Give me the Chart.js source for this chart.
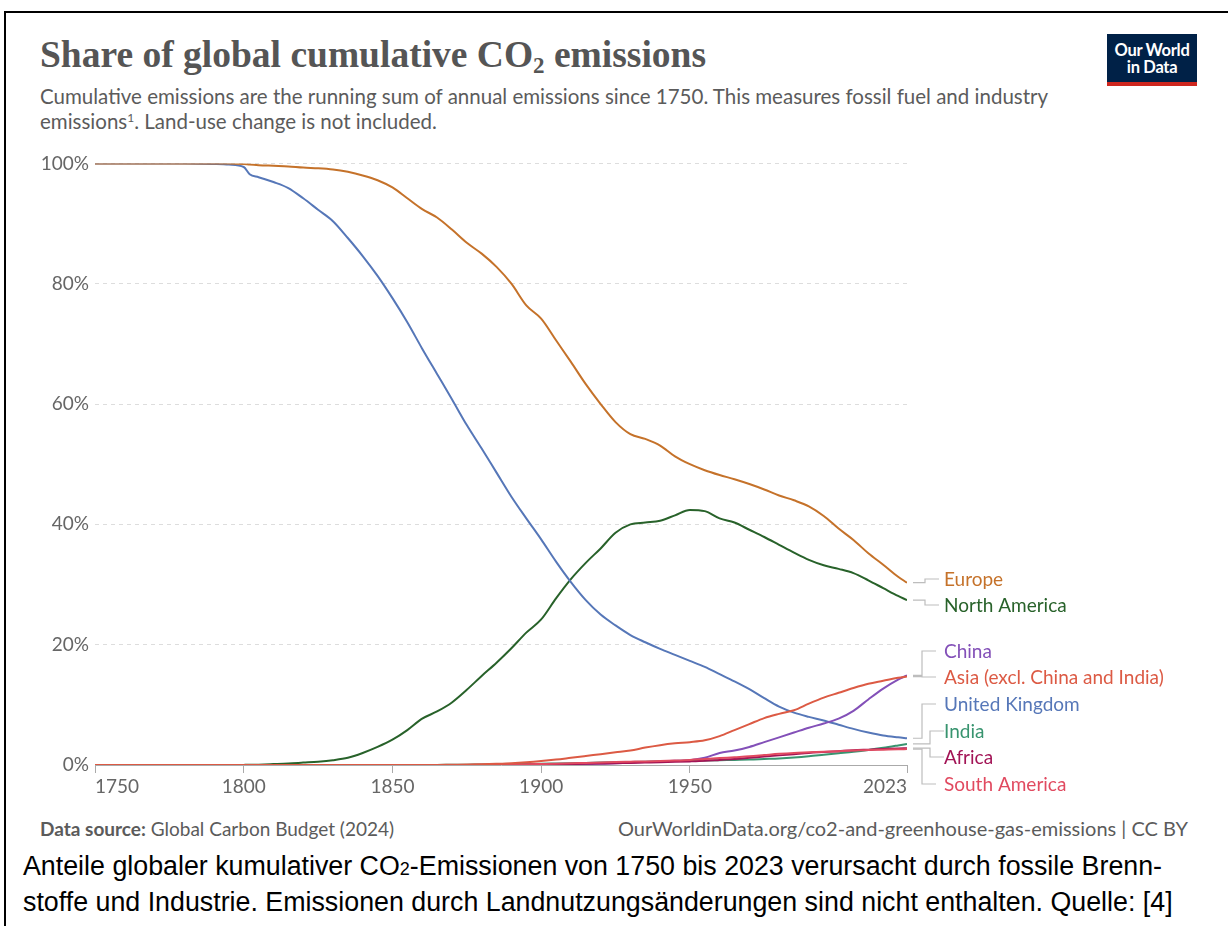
<!DOCTYPE html>
<html>
<head>
<meta charset="utf-8">
<script src="https://cdn.jsdelivr.net/npm/chart.js@4.4.1/dist/chart.umd.min.js"></script>
<style>
  html, body { margin: 0; padding: 0; background: #fff; width: 1228px; height: 926px; overflow: hidden; }
  #frame { position: absolute; left: 4px; top: 11px; width: 1300px; height: 1000px; border: 2px solid #000; box-sizing: border-box; }
  #title { position: absolute; left: 40px; top: 33px; font-family: "Liberation Serif", serif; font-weight: bold; font-size: 37.5px; line-height: 44px; color: #555; white-space: nowrap; }
  #title .sub { font-size: 23px; position: relative; top: 6px; }
  #subtitle { position: absolute; left: 40px; top: 84px; font-family: Lato, sans-serif; font-size: 20.5px; line-height: 25px; color: #5b5b5b; white-space: nowrap; }
  #subtitle sup { font-size: 12px; line-height: 0; vertical-align: 7px; }
  #logo { position: absolute; left: 1107px; top: 34px; width: 90px; height: 40px; background: #002147; border-bottom: 4px solid #ce261e; color: #fff; font-family: Lato, sans-serif; font-weight: bold; font-size: 16.5px; line-height: 17px; text-align: center; padding-top: 8px; letter-spacing: -0.3px; }
  #wrap { position: absolute; left: 0; top: 146px; width: 1180px; height: 654px; }
  #footL { position: absolute; left: 40px; top: 817px; font-family: Lato, sans-serif; font-size: 19px; color: #5b5b5b; }
  #footR { position: absolute; right: 40px; top: 816px; font-family: Lato, sans-serif; font-size: 20px; color: #5b5b5b; }
  #caption { position: absolute; left: 23px; top: 850px; font-family: "Liberation Sans", Arial, sans-serif; font-size: 26.8px; line-height: 33px; color: #000; white-space: nowrap; }
  #caption .sub { font-size: 18px; }
</style>
</head>
<body>
<div id="frame"></div>
<div id="title">Share of global cumulative CO<span class="sub">2</span> emissions</div>
<div id="subtitle">Cumulative emissions are the running sum of annual emissions since 1750. This measures fossil fuel and industry<br>emissions<sup>1</sup>. Land-use change is not included.</div>
<div id="logo">Our World<br>in Data</div>
<div id="wrap"><canvas id="c"></canvas></div>
<div id="footL"><b>Data source:</b> Global Carbon Budget (2024)</div>
<div id="footR">OurWorldinData.org/co2-and-greenhouse-gas-emissions | CC BY</div>
<div id="caption">Anteile globaler kumulativer CO<span class="sub">2</span>-Emissionen von 1750 bis 2023 verursacht durch fossile Brenn-<br>stoffe und Industrie. Emissionen durch Landnutzungsänderungen sind nicht enthalten. Quelle: [4]</div>
<script>
// years sampled from the chart
const years = [1750, 1780, 1790, 1795, 1800, 1802, 1805, 1810, 1815, 1820, 1825, 1830, 1835, 1840, 1845,
  1850, 1855, 1860, 1865, 1870, 1875, 1880, 1885, 1890, 1895, 1900, 1905, 1910, 1915, 1920, 1925,
  1930, 1935, 1940, 1945, 1950, 1955, 1960, 1965, 1970, 1975, 1980, 1985, 1990, 1995, 2000, 2005,
  2010, 2015, 2020, 2023];

// share of global cumulative CO2, %
const europe = [100, 100, 100, 100, 99.9, 99.8, 99.7, 99.6, 99.5, 99.3, 99.2, 99.0, 98.6, 98.0, 97.2,
  96.0, 94.2, 92.4, 91.0, 89.0, 86.8, 85.0, 82.8, 80.0, 76.4, 74.2, 70.6, 67.0, 63.3, 60.0, 57.0,
  55.0, 54.2, 53.1, 51.3, 50.0, 49.0, 48.2, 47.5, 46.7, 45.8, 44.8, 44.0, 43.0, 41.4, 39.3, 37.4,
  35.2, 33.3, 31.3, 30.3];
const northAmerica = [0, 0, 0, 0, 0.02, 0.03, 0.06, 0.15, 0.25, 0.4, 0.55, 0.8, 1.2, 2.0, 3.0,
  4.2, 5.8, 7.7, 8.9, 10.4, 12.5, 14.8, 17.0, 19.4, 22.0, 24.2, 27.7, 30.9, 33.6, 36.0, 38.6,
  40.0, 40.3, 40.6, 41.5, 42.4, 42.2, 41.0, 40.3, 39.1, 37.9, 36.6, 35.3, 34.1, 33.2, 32.6, 31.9,
  30.7, 29.4, 28.1, 27.4];
const china = [0, 0, 0, 0, 0, 0, 0, 0, 0, 0, 0, 0, 0, 0, 0,
  0, 0, 0, 0, 0, 0, 0, 0, 0, 0.01, 0.03, 0.06, 0.1, 0.15, 0.2, 0.3,
  0.4, 0.5, 0.6, 0.7, 0.8, 1.2, 2.0, 2.4, 3.0, 3.8, 4.6, 5.4, 6.2, 6.9, 7.7, 9.0,
  10.9, 12.7, 14.2, 14.9];
const asia = [0, 0, 0, 0, 0, 0, 0, 0, 0, 0, 0, 0, 0, 0, 0,
  0, 0, 0, 0.02, 0.05, 0.08, 0.12, 0.2, 0.3, 0.45, 0.65, 0.9, 1.2, 1.5, 1.8, 2.1,
  2.4, 2.9, 3.3, 3.6, 3.8, 4.1, 4.8, 5.8, 6.8, 7.8, 8.5, 9.1, 10.2, 11.2, 12.0, 12.8,
  13.5, 14.0, 14.5, 14.7];
const uk = [100, 100, 99.9, 99.8, 99.4, 98.2, 97.7, 96.9, 95.9, 94.2, 92.3, 90.4, 87.6, 84.6, 81.3,
  77.6, 73.6, 69.2, 65.0, 60.8, 56.5, 52.6, 48.6, 44.6, 41.0, 37.5, 33.8, 30.4, 27.4, 25.0, 23.2,
  21.6, 20.4, 19.3, 18.3, 17.3, 16.3, 15.1, 13.9, 12.6, 11.1, 9.7, 8.7, 8.0, 7.4, 6.7, 6.0,
  5.4, 4.9, 4.6, 4.45];
const india = [0, 0, 0, 0, 0, 0, 0, 0, 0, 0, 0, 0, 0, 0, 0,
  0, 0, 0, 0.01, 0.03, 0.05, 0.08, 0.1, 0.13, 0.17, 0.2, 0.25, 0.3, 0.35, 0.4, 0.45,
  0.5, 0.55, 0.6, 0.65, 0.7, 0.75, 0.8, 0.85, 0.9, 1.0, 1.1, 1.25, 1.45, 1.7, 1.95, 2.2,
  2.5, 2.85, 3.25, 3.5];
const africa = [0, 0, 0, 0, 0, 0, 0, 0, 0, 0, 0, 0, 0, 0, 0,
  0, 0, 0, 0, 0, 0, 0, 0.01, 0.03, 0.05, 0.08, 0.12, 0.16, 0.2, 0.25, 0.3,
  0.35, 0.4, 0.45, 0.52, 0.6, 0.7, 0.85, 1.0, 1.2, 1.4, 1.6, 1.8, 2.0, 2.15, 2.3, 2.45,
  2.55, 2.65, 2.75, 2.8];
const southAmerica = [0, 0, 0, 0, 0, 0, 0, 0, 0, 0, 0, 0, 0, 0, 0,
  0, 0, 0, 0, 0, 0.01, 0.03, 0.05, 0.08, 0.12, 0.17, 0.22, 0.3, 0.35, 0.42, 0.5,
  0.55, 0.6, 0.67, 0.75, 0.85, 1.0, 1.15, 1.3, 1.45, 1.65, 1.85, 2.0, 2.1, 2.2, 2.3, 2.4,
  2.5, 2.55, 2.6, 2.65];

const xTickValues = [1750, 1800, 1850, 1900, 1950, 2023];
const yTickValues = [0, 20, 40, 60, 80, 100];

// series, top of drawing order first
const series = [
  { name: 'Europe', values: europe, color: '#c5722a' },
  { name: 'Asia (excl. China and India)', values: asia, color: '#dc5a44' },
  { name: 'South America', values: southAmerica, color: '#e14a60' },
  { name: 'Africa', values: africa, color: '#a21456' },
  { name: 'India', values: india, color: '#38946f' },
  { name: 'China', values: china, color: '#8350b8' },
  { name: 'United Kingdom', values: uk, color: '#5677b8' },
  { name: 'North America', values: northAmerica, color: '#28622a' }
];

// end-label layout (canvas pixels)
const labelLayout = [
  { name: 'Europe', y: 433, mid: 925 },
  { name: 'North America', y: 459, mid: 925 },
  { name: 'China', y: 505, mid: 922 },
  { name: 'Asia (excl. China and India)', y: 531, mid: 922 },
  { name: 'United Kingdom', y: 558, mid: 922 },
  { name: 'India', y: 585, mid: 930 },
  { name: 'Africa', y: 611, mid: 930 },
  { name: 'South America', y: 638, mid: 922 }
];

const endLabels = {
  id: 'endLabels',
  afterDraw(chart) {
    const { ctx, scales: { x, y } } = chart;
    ctx.save();
    const xEnd = x.getPixelForValue(years[years.length - 1]);
    labelLayout.forEach(l => {
      const ds = chart.data.datasets.find(d => d.label === l.name);
      const vy = y.getPixelForValue(ds.data[ds.data.length - 1].y);
      ctx.strokeStyle = '#bdbdbd';
      ctx.lineWidth = 1.2;
      ctx.beginPath();
      ctx.moveTo(xEnd + 6, vy);
      ctx.lineTo(l.mid, vy);
      ctx.lineTo(l.mid, l.y);
      ctx.lineTo(l.mid + 14, l.y);
      ctx.stroke();
      ctx.fillStyle = ds.borderColor;
      ctx.font = '19px Lato';
      ctx.textBaseline = 'middle';
      ctx.fillText(l.name, 944, l.y + 1);
    });
    ctx.restore();
  }
};

new Chart(document.getElementById('c'), {
  type: 'line',
  data: {
    datasets: series.map(s => ({
      label: s.name,
      data: years.map((yr, i) => ({ x: yr, y: s.values[i] })),
      borderColor: s.color,
      backgroundColor: s.color,
      borderWidth: 2,
      pointRadius: 0,
      cubicInterpolationMode: 'monotone'
    }))
  },
  options: {
    responsive: true,
    maintainAspectRatio: false,
    animation: false,
    layout: { padding: { top: 13, right: 273, left: 0, bottom: 0 } },
    plugins: { legend: { display: false }, tooltip: { enabled: false } },
    scales: {
      x: {
        type: 'linear',
        min: 1750,
        max: 2023,
        afterBuildTicks: s => { s.ticks = xTickValues.map(v => ({ value: v })); },
        afterFit: s => { s.height = 35; },
        grid: { drawOnChartArea: false, drawTicks: true, tickLength: 8, color: '#aaa' },
        border: { display: true, color: '#aaa' },
        ticks: { align: 'inner', padding: 2, color: '#666', font: { family: 'Lato', size: 19 }, callback: v => String(v), maxRotation: 0 }
      },
      y: {
        min: 0,
        max: 100,
        afterBuildTicks: s => { s.ticks = yTickValues.map(v => ({ value: v })); },
        afterFit: s => { s.width = 95; },
        grid: { color: '#dddddd', drawTicks: false },
        border: { display: false, dash: [4, 4] },
        ticks: { padding: 6, color: '#666', font: { family: 'Lato', size: 19 }, callback: v => v + '%' }
      }
    }
  },
  plugins: [endLabels]
});
</script>
</body>
</html>
